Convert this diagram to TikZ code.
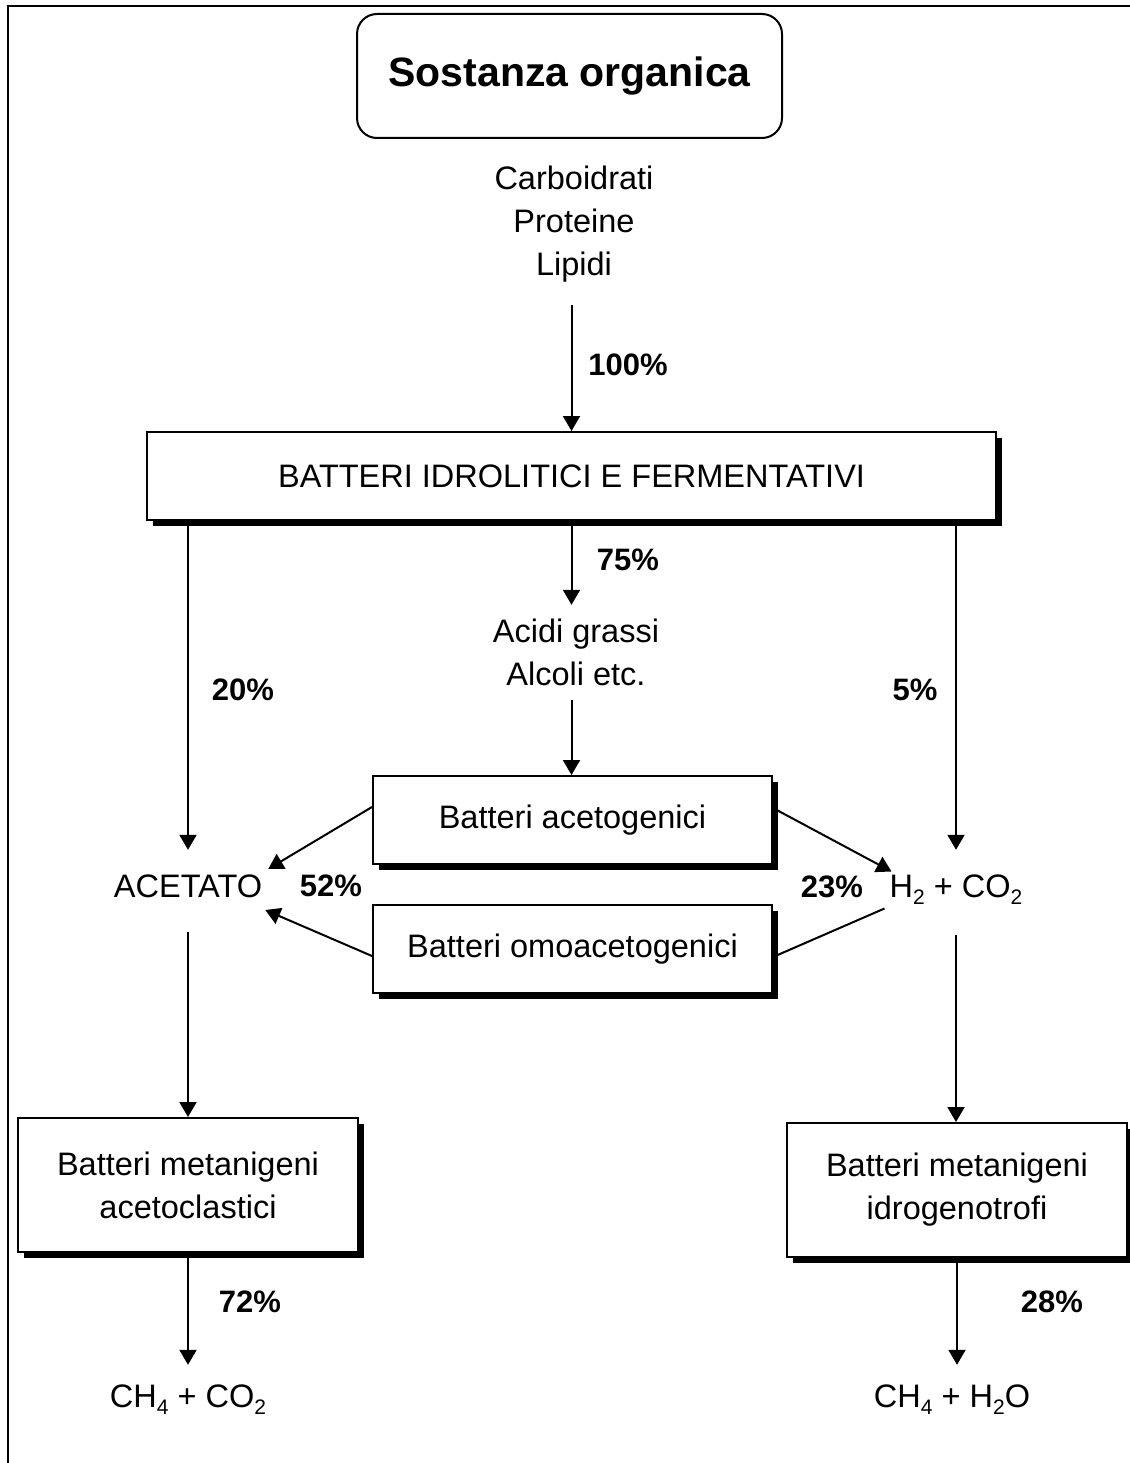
\documentclass[tikz,border=0pt]{standalone}
\usepackage{fontspec}
\setmainfont{Liberation Sans}
\usetikzlibrary{arrows.meta,shadows,calc}
\newcommand{\chsub}[1]{\raisebox{-0.23em}{\fontsize{21}{21}\selectfont #1}}
\tikzset{
  normfont/.style={font=\fontsize{32.5}{43}\selectfont},
  box/.style={draw, line width=2pt, fill=white, inner sep=0pt, align=center, normfont,
    drop shadow={shadow xshift=6pt, shadow yshift=-6pt, fill=black, opacity=1}},
  txt/.style={inner sep=0pt, align=center, normfont},
  chem/.style={inner xsep=4pt, inner ysep=0pt, normfont, anchor=base},
  pct/.style={inner sep=0pt, font=\bfseries\fontsize{31}{36}\selectfont},
  arr/.style={line width=2pt, -{Triangle[length=15pt,width=17pt]}},
  conn/.style={line width=2pt}
}
\begin{document}
\begin{tikzpicture}[x=1pt,y=-1pt]
\useasboundingbox (0,0) rectangle (1129,1463);
% outer frame (top and left edges visible)
\draw[line width=2.5pt] (8,1470) -- (8,6) -- (1135,6);

% title
\node[draw, line width=2pt, rounded corners=20pt, minimum width=425pt, minimum height=124pt,
      inner sep=0pt, font=\bfseries\fontsize{41}{48}\selectfont] (title) at (569.5,76) {Sostanza organica};
\node[txt, minimum height=162pt] (carb) at (574,224) {Carboidrati\\Proteine\\Lipidi};

% main boxes
\node[box, minimum width=849pt, minimum height=88pt] (idro) at (571.5,476) {BATTERI IDROLITICI E FERMENTATIVI};
\node[txt, minimum height=95pt] (acidi) at (576,652.5) {Acidi grassi\\Alcoli etc.};
\node[box, minimum width=399pt, minimum height=88pt] (acetog) at (572.5,820) {Batteri acetogenici};
\node[box, minimum width=399pt, minimum height=88pt] (omoac) at (572.5,949) {Batteri omoacetogenici};

\node[chem, text height=47pt, text depth=35pt] (acetato) at (188,897) {ACETATO};
\node[chem, text height=47pt, text depth=38pt] (h2) at (956,897) {H\chsub{2} + CO\chsub{2}};

\node[box, minimum width=340pt, minimum height=134pt] (aclast) at (188,1185) {Batteri metanigeni\\acetoclastici};
\node[box, minimum width=340pt, minimum height=134pt] (idrog) at (957,1190) {Batteri metanigeni\\idrogenotrofi};

\node[chem, text height=42pt, text depth=8pt] (ch4a) at (188,1407) {CH\chsub{4} + CO\chsub{2}};
\node[chem, text height=42pt, text depth=8pt] (ch4b) at (952,1407) {CH\chsub{4} + H\chsub{2}O};

% percentages
\node[pct] (p100) at (628,365) {100\%};
\node[pct] (p75) at (628,560) {75\%};
\node[pct] (p20) at (243,690) {20\%};
\node[pct] (p5) at (915,690) {5\%};
\node[pct] (p52) at (331,886) {52\%};
\node[pct] (p23) at (832,887) {23\%};
\node[pct] (p72) at (250,1302) {72\%};
\node[pct] (p28) at (1052,1302) {28\%};

% connectors
\draw[arr] (carb.south -| idro.north) -- (idro.north);
\draw[arr] (idro.south) -- (idro.south |- acidi.north);
\draw[arr] (acidi.south -| idro.south) -- (idro.south |- acetog.north);
\draw[arr] (idro.south -| acetato.north) -- (acetato.north);
\draw[arr] (idro.south -| h2.north) -- (h2.north);

\draw[arr] ($(acetog.west)+(0,-13)$) -- ($(acetato.east)+(2,-22)$);
\draw[arr] ($(omoac.west)+(0,7)$) -- ($(acetato.east)+(-1,19)$);
\draw[arr] ($(acetog.east)+(0,-12)$) -- ($(h2.west)+(6,-21)$);
\draw[conn] ($(h2.west)+(-1,16)$) -- ($(omoac.east)+(0,8)$);

\draw[arr] (acetato.south) -- (aclast.north);
\draw[arr] (h2.south) -- (h2.south |- idrog.north);
\draw[arr] (aclast.south) -- (aclast.south |- ch4a.north);
\draw[arr] (idrog.south) -- (idrog.south |- ch4b.north);
\end{tikzpicture}
\end{document}
